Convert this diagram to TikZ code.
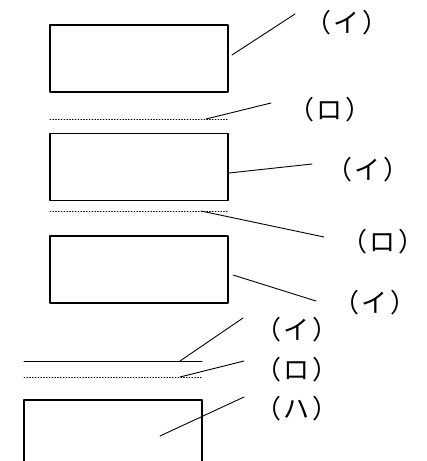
\documentclass[tikz,border=0pt]{standalone}
\usepackage{fontspec}
\newfontfamily\jpfont{Noto Sans CJK JP}
\newcommand\kakko[1]{（\kern2.5pt#1\kern2.5pt）}
\begin{document}
\begin{tikzpicture}[x=1pt,y=-1pt,font=\jpfont\fontsize{26}{30}\selectfont, line join=round, line cap=round]
			\tikzset{layer/.style={draw,line width=1.2pt,minimum width=178pt,minimum height=67pt,inner sep=0pt},
				lbl/.style={inner sep=0pt},
				leader/.style={line width=0.9pt},
				seam/.style={line width=0.8pt,dotted}}
			\useasboundingbox (0,0) rectangle (427,461);
			\clip (0,0) rectangle (427,461);
			\node[layer] (box1) at (139,58.5) {};
			\node[layer] (box2) at (139,167) {};
			\node[layer] (box3) at (139,269.5) {};
			\node[layer,minimum height=80pt] (box4) at (113,440) {};
			\draw[seam] (50,119) coordinate (s1a)--(228,119) coordinate (s1b);
			\draw[seam] (50,211) coordinate (s2a)--(228,211) coordinate (s2b);
			\draw[line width=1pt] (24,361) coordinate (l1a)--(202,361) coordinate (l1b);
			\draw[seam] (24,377) coordinate (s3a)--(202,377) coordinate (s3b);
			\node[lbl] (t1) at (347,23) {\kakko{イ}};
			\node[lbl] (t2) at (330,110) {\kakko{ロ}};
			\node[lbl] (t3) at (368,170) {\kakko{イ}};
			\node[lbl] (t4) at (383,242) {\kakko{ロ}};
			\node[lbl] (t5) at (375,303) {\kakko{イ}};
			\node[lbl] (t6) at (297,330) {\kakko{イ}};
			\node[lbl] (t7) at (297,370) {\kakko{ロ}};
			\node[lbl] (t8) at (297,409) {\kakko{ハ}};
			% leaders
			\coordinate (p1) at (232,55);  \coordinate (q1) at (295,14);
			\coordinate (p2) at (206,119); \coordinate (q2) at (271,103);
			\coordinate (p3) at (229,173); \coordinate (q3) at (312,164);
			\coordinate (p4) at (201,211); \coordinate (q4) at (324,237);
			\coordinate (p5) at (233,275); \coordinate (q5) at (316,301);
			\coordinate (p6) at (180,361); \coordinate (q6) at (243,318);
			\coordinate (p7) at (180,377); \coordinate (q7) at (244,361);
			\coordinate (p8) at (160,436); \coordinate (q8) at (244,397);
			\foreach \i in {1,...,8} \draw[leader] (p\i)--(q\i);
		\end{tikzpicture}
\end{document}
